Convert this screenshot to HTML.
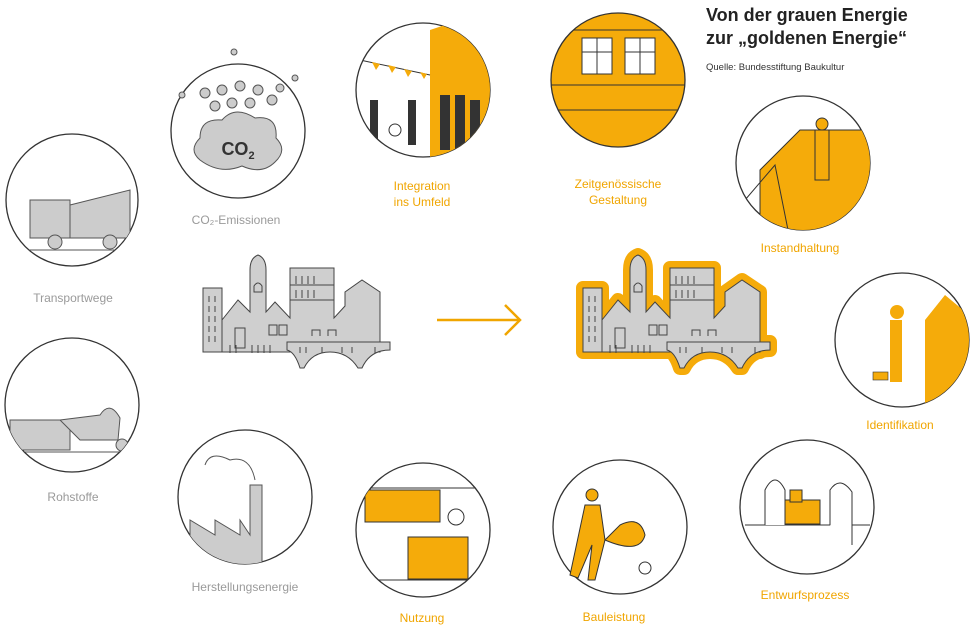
<!DOCTYPE html>
<html><head><meta charset="utf-8"><style>
html,body{margin:0;padding:0;background:#fff;}
svg{display:block;font-family:"Liberation Sans",sans-serif;}
.g{fill:#9a9a9a;font-size:12px;text-anchor:middle}
.o{fill:#f0a500;font-size:12px;text-anchor:middle}
.c{fill:#fff;stroke:#333;stroke-width:1.3}
</style></head><body>
<svg width="980" height="632" viewBox="0 0 980 632" xmlns="http://www.w3.org/2000/svg">
<defs>
<g id="city">
<rect x="203" y="288" width="19" height="64"/>
<path d="M222 352 V320 L238 300 L250 312 V270 Q250 258 258 255 Q266 258 266 270 V312 L275 302 L290 318 V268 H334 V318 L345 306 V292 L362 280 L380 292 V352 Z"/>
<path d="M287 342 H390 V350 Q370 350 362 368 H358 Q348 352 330 352 Q312 352 304 368 H300 Q295 352 287 350 Z"/>
</g>
<g id="det" stroke="#444" stroke-width="1" fill="none">
<path d="M209 296v6M215 296v6M209 306v6M215 306v6M209 316v6M215 316v6M209 326v6M215 326v6M209 336v6M215 336v6"/>
<path d="M254 292v-6q4-6 8 0v6z"/>
<path d="M290 285H334M290 300H334M296 276v8M302 276v8M308 276v8M314 276v8M296 290v8M302 290v8M308 290v8M314 290v8"/>
<rect x="235" y="328" width="10" height="20"/><rect x="269" y="325" width="8" height="10"/><rect x="279" y="325" width="8" height="10"/>
<path d="M312 336v-6h8v6M328 336v-6h8v6"/>
<path d="M230 345v8M236 345v8M252 345v8M258 345v8M264 345v8M270 345v8"/>
<path d="M300 347v6M306 347v6M322 347v6M342 347v6M352 347v6M375 347v6"/>
</g>
<clipPath id="cI"><circle cx="423" cy="90" r="67"/></clipPath>
<clipPath id="cZ"><circle cx="618" cy="80" r="67"/></clipPath>
<clipPath id="cN"><circle cx="423" cy="530" r="67"/></clipPath>
<clipPath id="cId"><circle cx="902" cy="340" r="67"/></clipPath>
<clipPath id="cIn"><circle cx="803" cy="163" r="67"/></clipPath>
<clipPath id="cT"><circle cx="72" cy="200" r="66"/></clipPath>
<clipPath id="cR"><circle cx="72" cy="405" r="67"/></clipPath>
<clipPath id="cH"><circle cx="245" cy="497" r="67"/></clipPath>
</defs>

<text x="706" y="21" font-size="18" font-weight="bold" fill="#222">Von der grauen Energie</text>
<text x="706" y="44" font-size="18" font-weight="bold" fill="#222">zur „goldenen Energie“</text>
<text x="706" y="70" font-size="9.5" fill="#333">Quelle: Bundesstiftung Baukultur</text>

<!-- Transportwege -->
<circle class="c" cx="72" cy="200" r="66"/>
<g clip-path="url(#cT)" fill="#ccc" stroke="#555" stroke-width="1">
<rect x="30" y="200" width="40" height="38"/><path d="M70 205 L130 190 V238 H70 Z"/>
<circle cx="55" cy="242" r="7"/><circle cx="110" cy="242" r="7"/>
<line x1="5" y1="250" x2="140" y2="250"/></g>
<text class="g" x="73" y="302">Transportwege</text>

<!-- Rohstoffe -->
<circle class="c" cx="72" cy="405" r="67"/>
<g clip-path="url(#cR)" fill="#ccc" stroke="#555" stroke-width="1">
<rect x="10" y="420" width="60" height="30"/><path d="M60 420 L100 415 Q110 400 120 418 L118 440 H80 Z"/>
<circle cx="122" cy="445" r="6"/><line x1="5" y1="452" x2="140" y2="452"/></g>
<text class="g" x="73" y="501">Rohstoffe</text>

<!-- CO2 -->
<circle class="c" cx="238" cy="131" r="67"/>
<g fill="#ccc" stroke="#555" stroke-width="1">
<circle cx="205" cy="93" r="5"/><circle cx="222" cy="90" r="5"/><circle cx="240" cy="86" r="5"/><circle cx="258" cy="90" r="5"/><circle cx="272" cy="100" r="5"/><circle cx="215" cy="106" r="5"/><circle cx="232" cy="103" r="5"/><circle cx="250" cy="103" r="5"/><circle cx="182" cy="95" r="3"/><circle cx="295" cy="78" r="3"/><circle cx="234" cy="52" r="3"/><circle cx="280" cy="88" r="4"/>
<path d="M200 160 Q188 150 200 138 Q200 118 222 120 Q235 105 255 118 Q278 115 276 138 Q288 150 275 162 Q262 175 242 166 Q220 175 200 160 Z"/></g>
<text x="238" y="155" font-size="18" font-weight="bold" fill="#333" text-anchor="middle">CO<tspan font-size="11" dy="4">2</tspan></text>
<text class="g" x="236" y="224">CO₂-Emissionen</text>

<!-- Herstellungsenergie -->
<circle class="c" cx="245" cy="497" r="67"/>
<g clip-path="url(#cH)" fill="#ccc" stroke="#555" stroke-width="1">
<path d="M190 565 V520 L215 535 V520 L240 535 V520 L250 535 V485 H262 V565 Z"/>
<path d="M255 480 Q250 455 230 460 Q210 450 205 465" fill="none"/></g>
<text class="g" x="245" y="591">Herstellungsenergie</text>

<!-- Integration -->
<circle class="c" cx="423" cy="90" r="67"/>
<g clip-path="url(#cI)">
<path d="M430 30 L460 20 H500 V160 H430 Z" fill="#f5ab0a"/>
<path d="M360 60 L430 75" stroke="#333" fill="none"/>
<g fill="#f5ab0a"><path d="M372 62l4 8 4-6z M388 65l4 8 4-6z M404 69l4 8 4-6z M420 72l4 7 3-5z"/></g>
<g fill="#333"><rect x="370" y="100" width="8" height="40"/><rect x="408" y="100" width="8" height="45"/><rect x="440" y="95" width="10" height="55"/><rect x="455" y="95" width="10" height="55"/><rect x="470" y="100" width="10" height="50"/></g>
<circle cx="395" cy="130" r="6" fill="none" stroke="#333"/></g>
<text class="o" x="422" y="190">Integration</text><text class="o" x="422" y="206">ins Umfeld</text>

<!-- Zeitgenössische -->
<circle cx="618" cy="80" r="67" fill="#f5ab0a" stroke="#333" stroke-width="1.3"/>
<g clip-path="url(#cZ)" stroke="#333" fill="#fff">
<rect x="582" y="38" width="30" height="36"/><rect x="625" y="38" width="30" height="36"/>
<path d="M597 38v36M582 52h30M640 38v36M625 52h30" fill="none"/>
<line x1="550" y1="30" x2="690" y2="30"/><line x1="550" y1="85" x2="690" y2="85"/><line x1="550" y1="110" x2="690" y2="110"/></g>
<text class="o" x="618" y="188">Zeitgenössische</text><text class="o" x="618" y="204">Gestaltung</text>

<!-- Instandhaltung -->
<circle class="c" cx="803" cy="163" r="67"/>
<g clip-path="url(#cIn)"><path d="M760 170 L800 130 L880 130 V240 H760 Z" fill="#f5ab0a" stroke="#333"/>
<path d="M745 200 L775 165 L790 240" fill="none" stroke="#333"/>
<rect x="815" y="130" width="14" height="50" fill="#f5ab0a" stroke="#333"/><circle cx="822" cy="124" r="6" fill="#f5ab0a" stroke="#333"/></g>
<text class="o" x="800" y="252">Instandhaltung</text>

<!-- Identifikation -->
<circle class="c" cx="902" cy="340" r="67"/>
<g clip-path="url(#cId)"><path d="M925 320 L945 295 L975 320 V410 H925 Z" fill="#f5ab0a"/>
<rect x="890" y="320" width="12" height="62" fill="#f5ab0a"/><circle cx="897" cy="312" r="7" fill="#f5ab0a"/>
<rect x="873" y="372" width="15" height="8" fill="#f5ab0a" stroke="#333" stroke-width=".6"/></g>
<text class="o" x="900" y="429">Identifikation</text>

<!-- Entwurfsprozess -->
<circle class="c" cx="807" cy="507" r="67"/>
<g stroke="#333" fill="#fff"><line x1="745" y1="525" x2="870" y2="525"/>
<rect x="780" y="500" width="40" height="24" fill="#f5ab0a"/><rect x="790" y="490" width="12" height="12" fill="#f5ab0a"/>
<path d="M765 525 V490 Q775 470 785 490 V525"/><path d="M830 525 V490 Q840 475 852 492 V545"/></g>
<text class="o" x="805" y="599">Entwurfsprozess</text>

<!-- Bauleistung -->
<circle class="c" cx="620" cy="527" r="67"/>
<g fill="#f5ab0a" stroke="#333"><circle cx="592" cy="495" r="6"/><path d="M585 505 L600 505 L605 540 L595 580 L588 580 L592 545 L578 578 L570 575 Z"/>
<path d="M605 540 Q640 555 645 535 Q640 515 620 525 Z"/><circle cx="645" cy="568" r="6" fill="#fff"/></g>
<text class="o" x="614" y="621">Bauleistung</text>

<!-- Nutzung -->
<circle class="c" cx="423" cy="530" r="67"/>
<g clip-path="url(#cN)" stroke="#333"><rect x="365" y="490" width="75" height="32" fill="#f5ab0a"/>
<rect x="408" y="537" width="60" height="42" fill="#f5ab0a"/><circle cx="456" cy="517" r="8" fill="#fff"/>
<line x1="355" y1="488" x2="500" y2="488"/><line x1="355" y1="580" x2="500" y2="580"/></g>
<text class="o" x="422" y="622">Nutzung</text>

<!-- gray city -->
<use href="#city" fill="#cfcfcf" stroke="#444" stroke-width="1"/>
<use href="#det"/>
<g stroke="#f0a500" stroke-width="2.5" fill="none"><line x1="437" y1="320" x2="520" y2="320"/><path d="M505 305 L520 320 L505 335"/></g>
<g transform="translate(380,0)">
<use href="#city" fill="#f5ab0a" stroke="#f5ab0a" stroke-width="14" stroke-linejoin="round"/>
<use href="#city" fill="#cfcfcf" stroke="#444" stroke-width="1"/>
<use href="#det"/>
</g>
</svg>
</body></html>
